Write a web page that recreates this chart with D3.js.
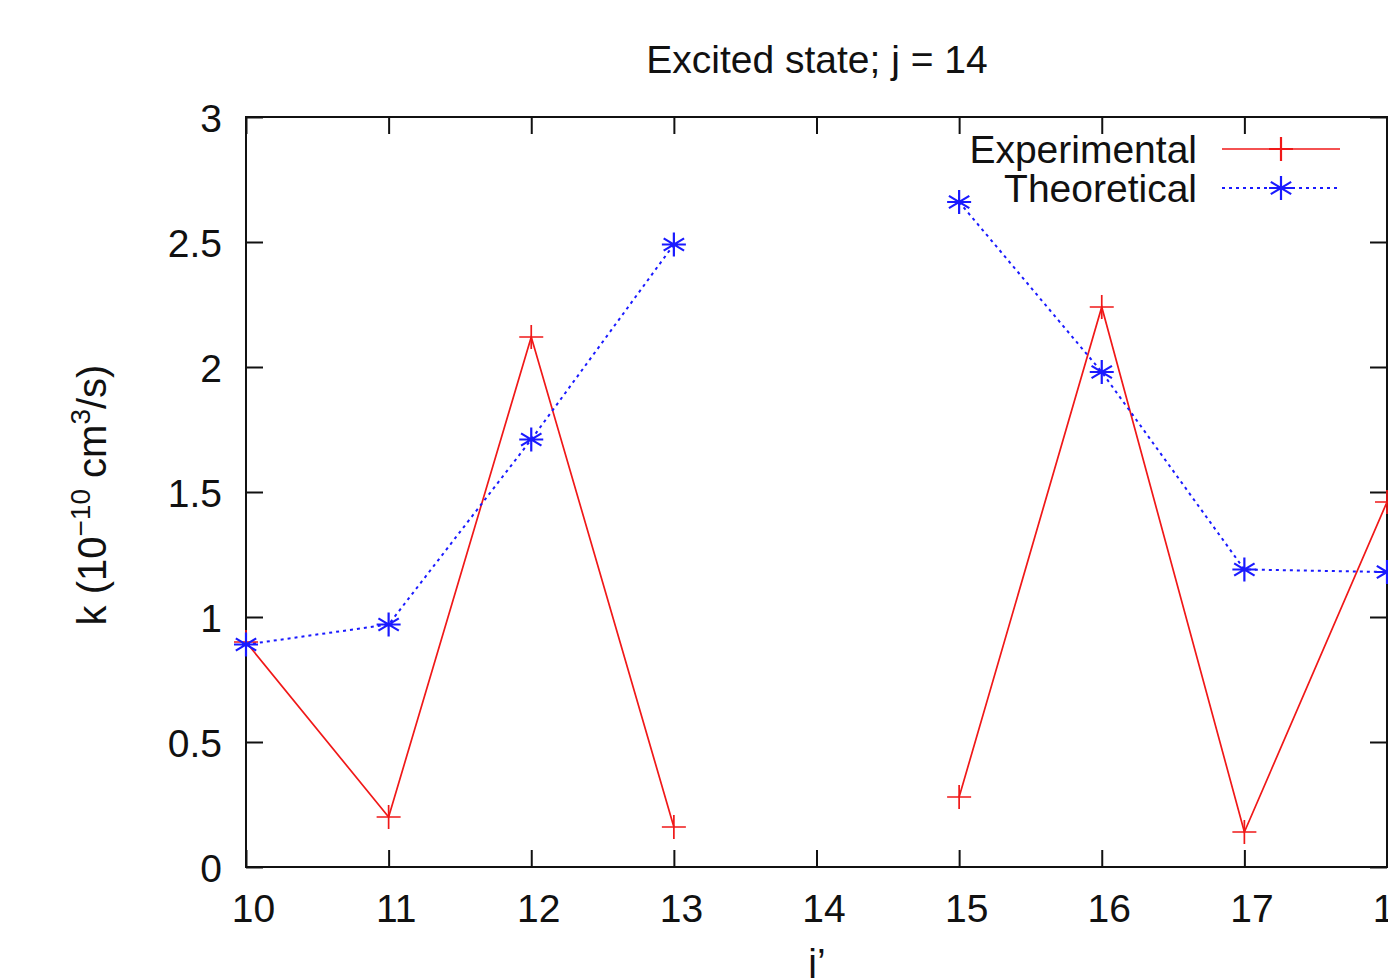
<!DOCTYPE html>
<html>
<head>
<meta charset="utf-8">
<style>
body { margin: 0; background: #fff; }
text { font-family: "Liberation Sans", Arial, sans-serif; fill: #111; }
.axis path, .axis line { stroke: #111; stroke-width: 2px; }
</style>
</head>
<body>
<script src="https://cdn.jsdelivr.net/npm/d3@7"></script>
<script>

// j' values and rate coefficients (10^-10 cm^3/s); null = no point
var jPrime = [10, 11, 12, 13, 14, 15, 16, 17, 18];
var experimental = [0.90, 0.20, 2.12, 0.16, null, 0.28, 2.24, 0.14, 1.46];
var theoretical  = [0.89, 0.97, 1.71, 2.49, null, 2.66, 1.98, 1.19, 1.18];
var yTicks = [0, 0.5, 1, 1.5, 2, 2.5, 3];

var width = 1388, height = 978;
var margin = {left: 246, right: 1387, top: 117, bottom: 867};
var fs = "39px";

var svg = d3.select("body").append("svg")
    .attr("width", width)
    .attr("height", height);

var x = d3.scaleLinear().domain([10, 18]).range([margin.left, margin.right]);
var y = d3.scaleLinear().domain([0, 3]).range([margin.bottom, margin.top]);

var tick = 17;

// frame
svg.append("rect")
    .attr("x", margin.left).attr("y", margin.top)
    .attr("width", margin.right - margin.left)
    .attr("height", margin.bottom - margin.top)
    .attr("fill", "none").attr("stroke", "#111").attr("stroke-width", 2);

// bottom axis
var xb = svg.append("g").attr("class", "axis")
    .attr("transform", "translate(0," + margin.bottom + ")")
    .call(d3.axisBottom(x).tickValues(jPrime).tickFormat(d3.format("d"))
      .tickSizeInner(-tick).tickSizeOuter(0).tickPadding(55));
xb.select(".domain").remove();
xb.selectAll("text").style("font-size", fs).attr("dx", 7).attr("dy", 0);

// top axis ticks
var xt = svg.append("g").attr("class", "axis")
    .attr("transform", "translate(0," + margin.top + ")")
    .call(d3.axisTop(x).tickValues(jPrime).tickFormat("").tickSizeInner(-tick).tickSizeOuter(0));
xt.select(".domain").remove();

// left axis
var yl = svg.append("g").attr("class", "axis")
    .attr("transform", "translate(" + margin.left + ",0)")
    .call(d3.axisLeft(y).tickValues(yTicks).tickFormat(d3.format("")).tickSizeInner(-tick).tickSizeOuter(0).tickPadding(24));
yl.select(".domain").remove();
yl.selectAll("text").style("font-size", fs).attr("dy", "0.36em");

// right axis ticks
var yr = svg.append("g").attr("class", "axis")
    .attr("transform", "translate(" + margin.right + ",0)")
    .call(d3.axisRight(y).tickValues(yTicks).tickFormat("").tickSizeInner(-tick).tickSizeOuter(0));
yr.select(".domain").remove();

// title
svg.append("text")
    .attr("x", 817)
    .attr("y", 73)
    .attr("text-anchor", "middle")
    .style("font-size", fs)
    .text("Excited state; j = 14");

// x label
svg.append("text")
    .attr("x", 817)
    .attr("y", 976)
    .attr("text-anchor", "middle")
    .style("font-size", fs)
    .text("j\u2019");

// y label
var yLab = svg.append("text")
    .attr("transform", "translate(106,495) rotate(-90)")
    .attr("text-anchor", "middle")
    .style("font-size", "40px");
yLab.append("tspan").text("k (10");
yLab.append("tspan").attr("dy", -16).style("font-size", "28px").text("\u221210");
yLab.append("tspan").attr("dy", 16).text(" cm");
yLab.append("tspan").attr("dy", -16).style("font-size", "28px").text("3");
yLab.append("tspan").attr("dy", 16).text("/s)");

var red = "#f01818", blue = "#1a1aff";
var plot = svg.append("g");

function seriesData(vals) {
  return jPrime.map(function(j, i) { return {j: j, v: vals[i]}; });
}

var line = d3.line()
    .defined(function(d) { return d.v !== null; })
    .x(function(d) { return x(d.j); })
    .y(function(d) { return y(d.v); });

plot.append("path")
    .datum(seriesData(experimental))
    .attr("d", line)
    .attr("fill", "none").attr("stroke", red).attr("stroke-width", 1.7);

plot.append("path")
    .datum(seriesData(theoretical))
    .attr("d", line)
    .attr("fill", "none").attr("stroke", blue).attr("stroke-width", 2)
    .attr("stroke-dasharray", "3,4");

var s = 12;
function plusPath(cx, cy) {
  return "M" + (cx - s) + "," + cy + "H" + (cx + s) + "M" + cx + "," + (cy - s) + "V" + (cy + s);
}
function starPath(cx, cy) {
  var t = s * 0.85;
  return "M" + cx + "," + (cy - s) + "V" + (cy + s) +
    "M" + (cx - t) + "," + (cy - t * 0.6) + "L" + (cx + t) + "," + (cy + t * 0.6) +
    "M" + (cx - t) + "," + (cy + t * 0.6) + "L" + (cx + t) + "," + (cy - t * 0.6) +
    "M" + (cx - s) + "," + cy + "H" + (cx + s);
}

plot.selectAll(".pt-exp")
    .data(seriesData(experimental).filter(function(d) { return d.v !== null; }))
    .enter().append("path")
    .attr("class", "pt-exp")
    .attr("d", function(d) { return plusPath(x(d.j), y(d.v)); })
    .attr("stroke", red).attr("stroke-width", 1.7);

plot.selectAll(".pt-th")
    .data(seriesData(theoretical).filter(function(d) { return d.v !== null; }))
    .enter().append("path")
    .attr("class", "pt-th")
    .attr("d", function(d) { return starPath(x(d.j), y(d.v)); })
    .attr("stroke", blue).attr("stroke-width", 2.2);

// legend
var legend = [
  {name: "Experimental", color: red, dash: null, y: 149, mark: plusPath},
  {name: "Theoretical", color: blue, dash: "3,4", y: 188, mark: starPath}
];
var lg = svg.append("g").selectAll("g").data(legend).enter().append("g");
lg.append("text")
    .attr("x", 1197).attr("y", function(d) { return d.y; })
    .attr("dy", "0.36em")
    .attr("text-anchor", "end")
    .style("font-size", fs)
    .text(function(d) { return d.name; });
lg.append("line")
    .attr("x1", 1222).attr("x2", 1340)
    .attr("y1", function(d) { return d.y; }).attr("y2", function(d) { return d.y; })
    .attr("stroke", function(d) { return d.color; })
    .attr("stroke-width", function(d) { return d.dash ? 2 : 1.7; })
    .attr("stroke-dasharray", function(d) { return d.dash; });
lg.append("path")
    .attr("d", function(d) { return d.mark(1281, d.y); })
    .attr("stroke", function(d) { return d.color; })
    .attr("stroke-width", 2.2);

</script>
</body>
</html>
